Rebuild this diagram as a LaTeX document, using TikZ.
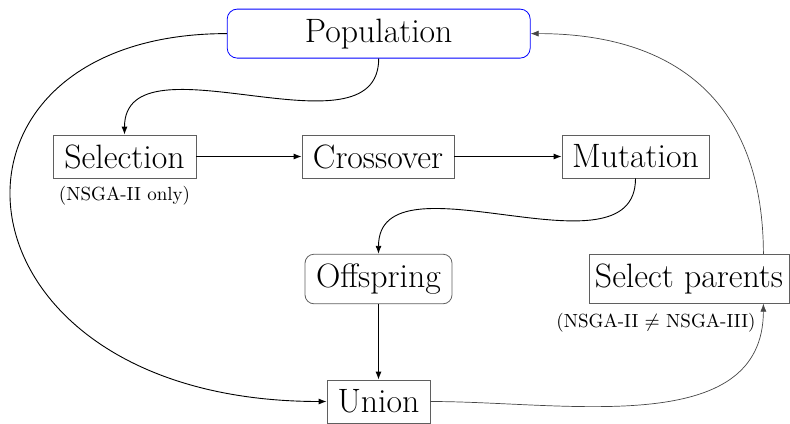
\RequirePackage{fix-cm}
\documentclass[tikz,border=0pt]{standalone}
\usetikzlibrary{arrows.meta}
\definecolor{boxgray}{RGB}{95,95,95}
\definecolor{lnkgray}{RGB}{70,70,70}
\newcommand{\bigtxt}{\fontsize{16.9pt}{19.5pt}\selectfont}
\newcommand{\smalltxt}{\fontsize{9.5pt}{11pt}\selectfont}
\begin{document}
\begin{tikzpicture}[x=0.5pt,y=-0.5pt,
  box/.style={draw=boxgray, inner sep=0pt, font=\bigtxt, line width=0.4pt},
  lbl/.style={font=\smalltxt, inner sep=0pt},
  arr/.style={-{Latex[length=4pt,width=3pt]}, line width=0.45pt},
  garr/.style={-{Latex[length=4pt,width=3pt]}, draw=lnkgray, line width=0.35pt}]
\useasboundingbox (0,0) rectangle (790,423);
\node[box, draw=blue, rounded corners=5pt, minimum width=151.5pt, minimum height=24.5pt] (pop) at (378.7,33.6) {Population};
\node[box, minimum width=71.5pt, minimum height=21.5pt] (sel) at (124.5,156.5) {Selection};
\node[box, minimum width=76pt, minimum height=21.5pt] (cro) at (378,156.5) {Crossover};
\node[box, minimum width=73.5pt, minimum height=21.5pt] (mut) at (635.5,156.5) {Mutation};
\node[box, rounded corners=4.5pt, minimum width=73.5pt, minimum height=24.8pt] (off) at (378.5,279) {Offspring};
\node[box, minimum width=100pt, minimum height=24.5pt] (sp) at (689,278.7) {Select parents};
\node[box, minimum width=51.5pt, minimum height=21.5pt] (uni) at (378.5,401.5) {Union};
\node[lbl] (sellbl) at (124.5,195.5) {(NSGA-II only)};
\node[lbl] (splbl) at (656,322.5) {(NSGA-II $\neq$ NSGA-III)};
\coordinate (spin) at ([xshift=-13pt]sp.south east);
\coordinate (spout) at ([xshift=-13pt]sp.north east);
\draw[arr] (pop.south) .. controls (378.7,162) and (124.5,31) .. (sel.north);
\draw[arr] (sel.east) -- (cro.west);
\draw[arr] (cro.east) -- (mut.west);
\draw[arr] (mut.south) .. controls (635.5,283) and (378.5,149) .. (off.north);
\draw[arr] (off.south) -- (uni.north);
\draw[arr] (pop.west) .. controls (-90,33.6) and (-60,401.5) .. (uni.west);
\draw[garr] (uni.east) .. controls (566,401.5) and (763,439) .. (spin);
\draw[garr] (spout) .. controls (763,104) and (678,33.6) .. (pop.east);
\end{tikzpicture}
\end{document}
